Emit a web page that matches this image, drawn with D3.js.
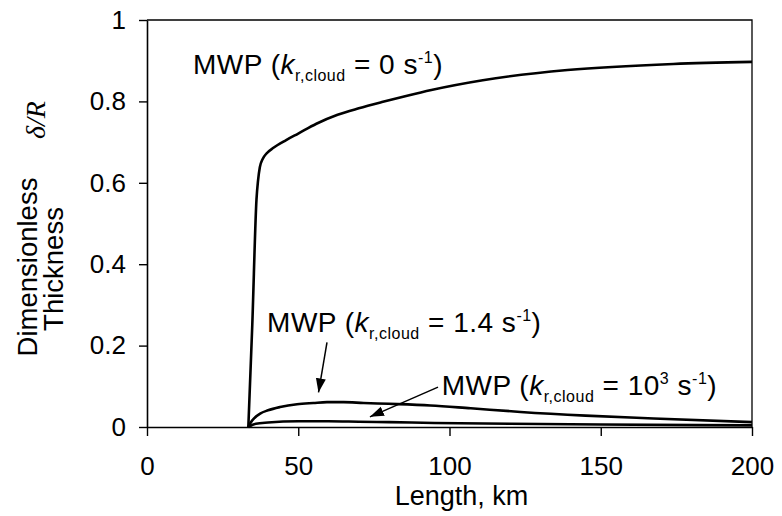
<!DOCTYPE html>
<html>
<head>
<meta charset="utf-8">
<script src="https://cdn.jsdelivr.net/npm/d3@7"></script>
<style>
  html, body { margin: 0; padding: 0; background: #fff; }
  svg { display: block; }
  text { font-family: "Liberation Sans", Arial, sans-serif; fill: #000; }
</style>
</head>
<body>
<div id="chart"></div>
<script>
// ---- Data ----
const xTicks = [0, 50, 100, 150, 200];
const yTicks = [0, 0.2, 0.4, 0.6, 0.8, 1];

// MWP, k_r,cloud = 0 s^-1
const seriesK0 = [
  [33.5, 0], [34.8, 0.25], [36.2, 0.56], [36.7, 0.605], [37.3, 0.638], [38.2, 0.658],
  [39.5, 0.672], [41.8, 0.686], [46.0, 0.705], [50.0, 0.721], [56.0, 0.745],
  [63.0, 0.767], [70.0, 0.783], [78.0, 0.799], [86.0, 0.814], [94.0, 0.828],
  [111.0, 0.852], [139.0, 0.877], [174.0, 0.892], [200.0, 0.897]
];
// MWP, k_r,cloud = 1.4 s^-1
const seriesK14 = [
  [33.5, 0], [34.3, 0.011], [35.5, 0.022], [37.4, 0.033], [40.0, 0.041], [44.0, 0.049],
  [49.6, 0.056], [55.0, 0.059], [59.5, 0.061], [65.0, 0.061], [71.6, 0.059],
  [80.0, 0.057], [93.7, 0.053], [107.0, 0.046], [123.5, 0.037], [145.0, 0.028],
  [167.5, 0.021], [200.0, 0.012]
];
// MWP, k_r,cloud = 10^3 s^-1
const seriesK1000 = [
  [33.5, 0], [36.0, 0.008], [40.0, 0.011], [50.0, 0.014], [60.0, 0.014], [70.0, 0.013],
  [80.0, 0.012], [95.0, 0.010], [120.0, 0.008], [150.0, 0.006], [200.0, 0.004]
];

// Annotation labels (data coordinates of text start / baseline)
const labelPos = [
  { x: 15.2, y: 0.867, value: "0", sup: "-1" },
  { x: 39.7, y: 0.234, value: "1.4", sup: "-1" },
  { x: 97.4, y: 0.078, value: "10", exp: "3", sup: "-1" }
];
// Arrows: from -> to (data coordinates)
const arrows = [
  { x1: 59.5, y1: 0.208, x2: 56.7, y2: 0.085 },
  { x1: 96.2, y1: 0.098, x2: 73.7, y2: 0.025 }
];

// ---- Layout ----
const W = 782, H = 516;
const margin = { left: 147, top: 20, right: 30, bottom: 89 };
const pw = W - margin.left - margin.right;   // 605
const ph = H - margin.top - margin.bottom;   // 407

const svg = d3.select("#chart").append("svg").attr("width", W).attr("height", H);

svg.append("defs").append("marker")
  .attr("id", "ah").attr("markerUnits", "userSpaceOnUse")
  .attr("markerWidth", 16).attr("markerHeight", 12)
  .attr("refX", 14).attr("refY", 5).attr("orient", "auto")
  .append("path").attr("d", "M0,0 L14,5 L0,10 Z").attr("fill", "#000");

const g = svg.append("g").attr("transform", `translate(${margin.left},${margin.top})`);

const x = d3.scaleLinear().domain([0, 200]).range([0, pw]);
const y = d3.scaleLinear().domain([0, 1]).range([ph, 0]);

// frame (top & right)
g.append("path")
  .attr("d", `M0,0 H${pw} V${ph}`)
  .attr("fill", "none").attr("stroke", "#000").attr("stroke-width", 1.3);

const fmt = d => (d === 0 || d === 1) ? String(d) : d.toFixed(1);

const yAxis = g.append("g")
  .call(d3.axisLeft(y).tickValues(yTicks).tickFormat(fmt).tickSize(8).tickSizeOuter(0).tickPadding(13));
const xAxis = g.append("g").attr("transform", `translate(0,${ph})`)
  .call(d3.axisBottom(x).tickValues(xTicks).tickSize(9).tickSizeOuter(0).tickPadding(21));

[yAxis, xAxis].forEach(a => {
  a.select(".domain").attr("stroke", "#000").attr("stroke-width", 1.6);
  a.selectAll(".tick line").attr("stroke", "#000").attr("stroke-width", 1.4);
  a.selectAll(".tick text").attr("font-size", 26).attr("font-family", "Liberation Sans, Arial, sans-serif").attr("fill", "#000");
});

// curves
const line = d3.line().x(d => x(d[0])).y(d => y(d[1])).curve(d3.curveMonotoneX);
[seriesK0, seriesK14, seriesK1000].forEach(s => {
  g.append("path").datum(s).attr("d", line)
    .attr("fill", "none").attr("stroke", "#000").attr("stroke-width", 2.6)
    .attr("stroke-linejoin", "round");
});

// arrows
arrows.forEach(a => {
  g.append("line")
    .attr("x1", x(a.x1)).attr("y1", y(a.y1))
    .attr("x2", x(a.x2)).attr("y2", y(a.y2))
    .attr("stroke", "#000").attr("stroke-width", 1.5)
    .attr("marker-end", "url(#ah)");
});

// labels
const FS = 28, SFS = 16;
labelPos.forEach(l => {
  const t = g.append("text").attr("x", x(l.x)).attr("y", y(l.y))
    .attr("font-size", FS).style("letter-spacing", "0.5px");
  t.append("tspan").text("MWP (");
  t.append("tspan").attr("font-style", "italic").text("k");
  t.append("tspan").attr("font-size", SFS).attr("dy", 7).text("r,cloud");
  t.append("tspan").attr("font-size", FS).attr("dy", -7).text(" = " + l.value);
  if (l.exp) {
    t.append("tspan").attr("font-size", SFS).attr("dy", -11).text(l.exp);
    t.append("tspan").attr("font-size", FS).attr("dy", 11).text(" s");
  } else {
    t.append("tspan").text(" s");
  }
  t.append("tspan").attr("font-size", SFS).attr("dy", -11).text(l.sup);
  t.append("tspan").attr("font-size", FS).attr("dy", 11).text(")");
});

// axis titles
svg.append("text")
  .attr("x", margin.left + pw / 2 + 12).attr("y", 505)
  .attr("text-anchor", "middle").attr("font-size", 27).text("Length, km");

svg.append("text")
  .attr("transform", "translate(37,267) rotate(-90)")
  .attr("text-anchor", "middle").attr("font-size", 27.5).text("Dimensionless");
svg.append("text")
  .attr("transform", "translate(63,269) rotate(-90)")
  .attr("text-anchor", "middle").attr("font-size", 27.5).text("Thickness");
svg.append("text")
  .attr("transform", "translate(45,120) rotate(-90)")
  .attr("text-anchor", "middle").attr("font-size", 28)
  .style("font-family", "'Liberation Serif', 'Times New Roman', serif")
  .attr("font-style", "italic").text("δ/R");
</script>
</body>
</html>
